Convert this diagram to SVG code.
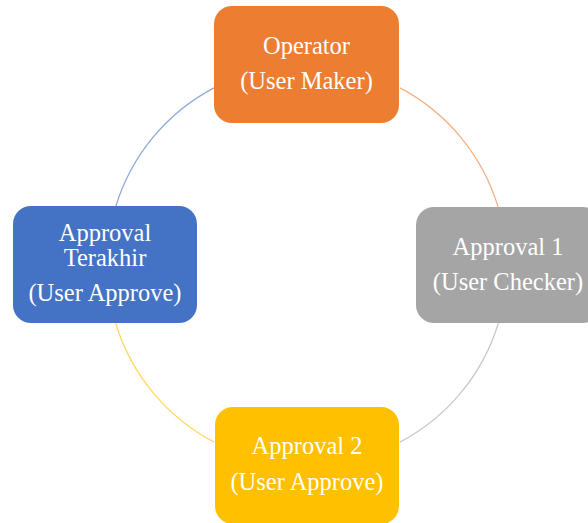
<svg xmlns="http://www.w3.org/2000/svg" width="588" height="523" viewBox="0 0 588 523">
<style>
.arc{fill:none;stroke-width:1.3}
.lbl{fill:#ffffff;font-family:"Liberation Serif","Times New Roman",serif;font-size:24.5px;text-anchor:middle}
</style>
<rect width="588" height="523" fill="#ffffff"/>
<g id="connectors">
<path class="arc" stroke="#8FAADC" d="M115.9,206 A200,200 0 0 1 214,87.9"/>
<path class="arc" stroke="#F4B183" d="M400,87.9 A200,200 0 0 1 498.1,207"/>
<path class="arc" stroke="#C9C9C9" d="M498.4,323 A200,200 0 0 1 400,442.1"/>
<path class="arc" stroke="#FFD966" d="M214,442.1 A200,200 0 0 1 115.6,323"/>
</g>
<g id="operator">
<rect x="214" y="6" width="185" height="117" rx="18" fill="#ED7D31"/>
<text class="lbl" x="306.5" y="54">Operator</text>
<text class="lbl" x="306.5" y="89">(User Maker)</text>
</g>
<g id="approval1">
<rect x="416" y="207" width="185" height="116" rx="18" fill="#A5A5A5"/>
<text class="lbl" x="508" y="255">Approval 1</text>
<text class="lbl" x="508" y="290">(User Checker)</text>
</g>
<g id="approval2">
<rect x="215" y="407" width="184" height="117" rx="18" fill="#FFC000"/>
<text class="lbl" x="307" y="454">Approval 2</text>
<text class="lbl" x="307" y="490">(User Approve)</text>
</g>
<g id="approval-terakhir">
<rect x="13" y="206" width="184" height="117" rx="18" fill="#4472C4"/>
<text class="lbl" x="105" y="240.5">Approval</text>
<text class="lbl" x="105" y="265.5">Terakhir</text>
<text class="lbl" x="105" y="301">(User Approve)</text>
</g>
</svg>
